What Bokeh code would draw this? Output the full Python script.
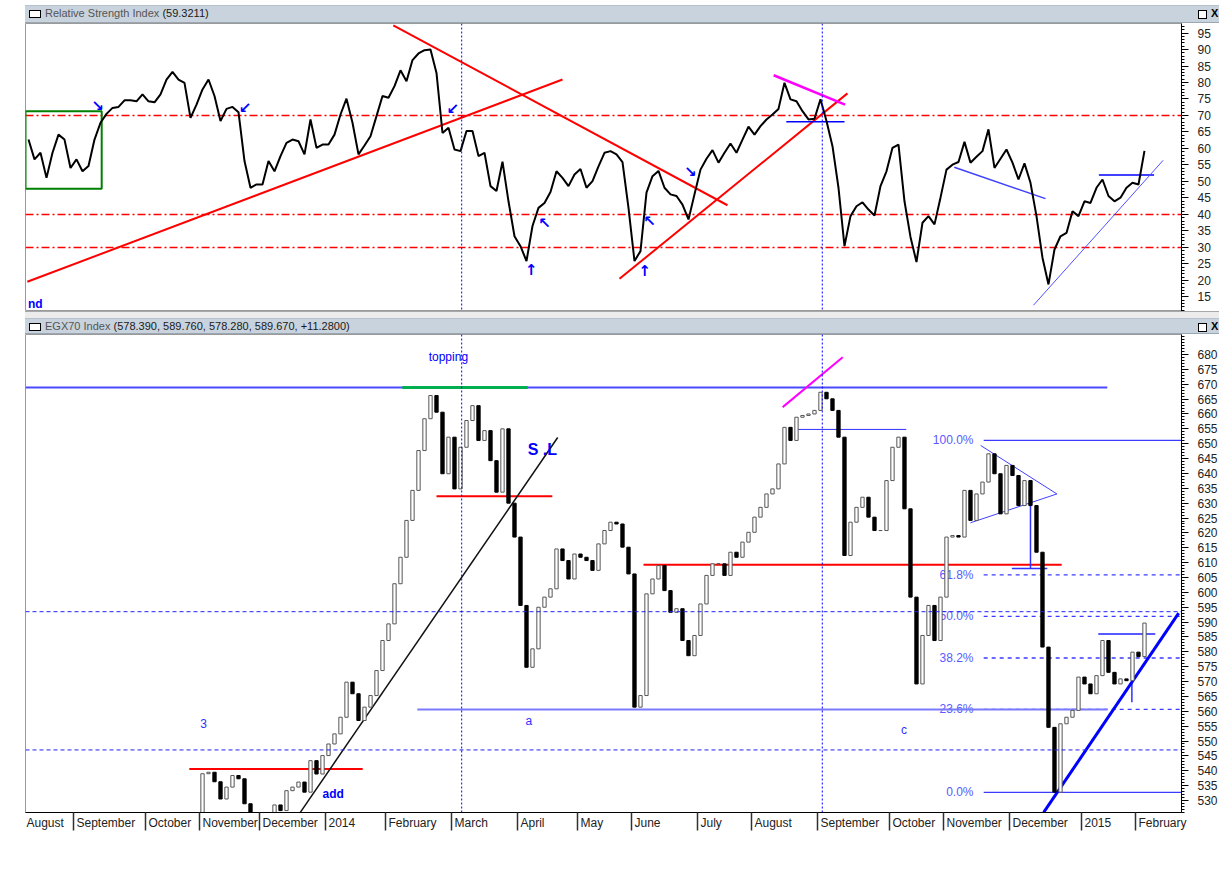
import numpy as np
from bokeh.plotting import figure
from bokeh.models import ColumnDataSource, FixedTicker, Range1d, Span, Label, Div
from bokeh.layouts import column
from bokeh.embed import file_html
from bokeh.resources import INLINE
from bokeh.core.properties import value

# ---------------- data (one value per bar, bar index 0 = mid August 2013) ----------------
rsi = [62.7, 56.7, 58.7, 51.1, 58.7, 64.2, 62.7, 54.1, 56.7, 53.1,
       54.7, 62.7, 67.8, 70.5, 72.3, 72.6, 74.6, 74.6, 74.3, 76.4,
       74.3, 74.0, 76.4, 80.9, 83.2, 80.9, 79.9, 69.3, 73.3, 77.9,
       80.9, 75.9, 68.3, 72.0, 72.6, 71.0, 56.2, 48.1, 49.1, 49.1,
       56.2, 53.1, 57.7, 61.7, 62.7, 62.2, 58.2, 68.8, 60.2, 61.2,
       61.2, 64.2, 70.3, 75.1, 67.8, 58.2, 60.9, 63.7, 69.8, 75.9,
       75.4, 78.9, 83.7, 80.4, 86.8, 88.8, 89.8, 90.0, 82.9, 64.7,
       66.3, 59.7, 59.2, 65.3, 65.3, 57.7, 58.7, 48.6, 47.1, 56.0,
       44.0, 33.4, 30.4, 25.9, 36.5, 42.0, 43.5, 46.8, 53.1, 51.1,
       48.6, 52.1, 53.8, 48.1, 50.1, 54.6, 58.7, 59.2, 58.2, 55.9,
       42.0, 25.9, 28.9, 46.6, 51.6, 53.2, 48.1, 46.1, 45.6, 43.0,
       38.5, 46.1, 53.6, 56.9, 59.5, 55.7, 58.7, 61.5, 58.7, 62.7,
       66.6, 64.2, 66.8, 68.8, 70.3, 72.0, 79.9, 74.9, 74.3, 71.3,
       68.8, 69.0, 74.9, 68.3, 60.7, 48.1, 30.4, 39.5, 42.5, 43.7,
       41.5, 39.7, 48.6, 53.1, 60.2, 61.2, 44.0, 33.2, 25.6, 37.5,
       39.5, 37.0, 45.1, 53.6, 55.1, 55.9, 62.0, 55.7, 57.5, 59.2,
       65.8, 54.1, 56.9, 59.7, 55.7, 50.6, 55.5, 49.6, 39.5, 26.9,
       18.8, 29.4, 33.4, 34.4, 41.0, 39.5, 44.0, 43.5, 48.1, 50.6,
       45.6, 44.0, 45.1, 48.1, 49.6, 49.1, 59.3]

price_first_bar = 28          # earlier bars are below the visible price scale
price_close = [521.0, 539.0, 539.5, 536.3, 530.5, 534.5, 538.4, 537.3, 528.9, 525.5,
               522.0, 521.0, 524.0, 528.5, 526.6, 533.3, 534.5, 536.2, 532.8, 543.4,
               538.9, 545.1, 549.0, 552.4, 558.0, 569.8, 565.9, 556.9, 561.4, 565.3,
               573.7, 583.8, 589.4, 602.9, 611.8, 624.2, 634.3, 647.7, 658.4, 666.2,
               660.6, 639.9, 652.2, 634.8, 648.8, 657.8, 662.8, 651.1, 654.4, 644.3,
               633.7, 655.0, 630.0, 618.6, 595.6, 574.8, 581.0, 595.0, 598.4, 601.2,
               614.6, 610.7, 604.5, 612.9, 611.8, 610.7, 607.4, 616.3, 620.8, 623.6,
               623.0, 615.2, 606.2, 561.4, 565.3, 599.5, 604.5, 609.0, 600.6, 593.3,
               594.5, 583.8, 578.7, 585.5, 596.1, 605.7, 609.6, 609.6, 605.7, 613.5,
               611.8, 616.9, 620.2, 625.3, 628.6, 633.1, 634.8, 643.2, 655.5, 651.1,
               658.9, 659.5, 660.0, 661.2, 667.3, 665.1, 661.2, 652.2, 612.4, 623.6,
               628.6, 632.0, 625.3, 620.8, 620.8, 637.6, 648.8, 652.2, 628.1, 598.4,
               569.2, 585.5, 595.6, 583.8, 598.4, 618.6, 619.1, 618.6, 634.3, 624.2,
               633.1, 637.1, 646.6, 639.9, 626.4, 642.7, 639.3, 629.2, 637.6, 629.2,
               613.5, 581.6, 554.6, 532.8, 555.8, 558.0, 560.3, 571.5, 569.2, 565.9,
               572.0, 583.8, 573.1, 569.2, 570.9, 570.3, 579.9, 578.4, 589.67]

rsi_last = "59.3211"
ohlc_last = "578.390, 589.760, 578.280, 589.670, +11.2800"
last_price = 589.67

month_labels = ["August", "September", "October", "November", "December", "2014",
                "February", "March", "April", "May", "June", "July", "August",
                "September", "October", "November", "December", "2015", "February"]
month_first_bar = [None, 8, 20, 29, 39, 50, 60, 71, 82, 92, 101, 112, 121,
                   132, 144, 153, 164, 176, 185]

rsi_levels = [70, 40, 30]
price_ticks = list(range(530, 685, 5))
rsi_ticks = list(range(15, 100, 5))

fib_high, fib_low = 651.1, 532.7
fib_ratios = [1.0, 0.618, 0.5, 0.382, 0.236, 0.0]
fib_names = ["100.0%", "61.8%", "50.0%", "38.2%", "23.6%", "0.0%"]

# ---------------- layout constants ----------------
FONT = "Liberation Sans"
X0, X1 = -0.5, 192.17
xr = Range1d(X0, X1)
LEFT = 25

AW = {'A': 667, 'F': 611, 'J': 500, 'M': 833, 'N': 722, 'O': 778, 'D': 722, 'S': 667,
      'a': 556, 'b': 556, 'c': 500, 'e': 556, 'g': 556, 'h': 556, 'i': 222, 'l': 222,
      'm': 833, 'n': 556, 'o': 556, 'p': 556, 'r': 333, 's': 500, 't': 278, 'u': 556,
      'v': 500, 'y': 500}


def text_w(s, px=12):
    return sum(AW.get(c, 556) for c in s) * px / 1000.0


PX_PER_BAR = 6.0


def style_right(ax, majors, minors):
    ax.ticker = FixedTicker(ticks=majors, minor_ticks=minors)
    ax.axis_line_color = "black"
    ax.axis_line_width = 1
    ax.major_tick_out = 7
    ax.major_tick_in = 0
    ax.minor_tick_out = 3
    ax.minor_tick_in = 0
    ax.major_tick_line_color = "black"
    ax.minor_tick_line_color = "black"
    ax.major_label_text_font = FONT
    ax.major_label_text_font_size = "12px"
    ax.major_label_text_color = "#222222"
    ax.major_label_standoff = 9


# ---------------- RSI panel ----------------
p1 = figure(frame_width=1156, frame_height=288, x_range=xr, y_range=Range1d(10.6, 97.88),
            output_backend="svg", toolbar_location=None, x_axis_location=None,
            y_axis_location="right", min_border_left=LEFT, min_border_right=38,
            min_border_top=0, min_border_bottom=0, background_fill_color="white",
            border_fill_color="white", outline_line_color="#9a9a9a")
p1.grid.visible = False
style_right(p1.yaxis[0], rsi_ticks, list(range(11, 98)))

p1.segment(x0=[X0] * len(rsi_levels), y0=rsi_levels, x1=[X1] * len(rsi_levels), y1=rsi_levels,
           line_color="#ff0000", line_width=1.6, line_dash="8 3 2 3")
for vx in (72.2, 132.3):
    p1.add_layout(Span(location=vx, dimension="height", line_color="#0000ff", line_width=1, line_dash="2 2"))

p1.quad(left=[X0], right=[12.2], top=[71.3], bottom=[47.8], fill_alpha=0,
        line_color="#008000", line_width=2)
p1.segment(x0=[-0.2, 60.8, 98.5], y0=[19.6, 97.3, 20.5], x1=[89.0, 116.5, 136.5], y1=[80.9, 42.8, 76.7],
           line_color="#ff0000", line_width=2)
p1.segment(x0=[124.2], y0=[82.2], x1=[136.1], y1=[73.3], line_color="#ff00ff", line_width=2.5)
p1.segment(x0=[126.3, 178.4], y0=[68.1, 52.0], x1=[136.0, 187.6], y1=[68.1, 52.0],
           line_color="#0000ff", line_width=1.5)
p1.segment(x0=[154.3], y0=[54.3], x1=[169.5], y1=[44.8], line_color="#4040ff", line_width=1.5)
p1.segment(x0=[167.5], y0=[12.5], x1=[189.1], y1=[56.4], line_color="#5050ff", line_width=1)

p1.line(x=np.arange(len(rsi)), y=rsi, line_color="black", line_width=2)

p1.text(x=[11.5, 36.1, 70.7, 86.0, 83.8, 102.7, 103.5, 110.3],
        y=[72.8, 72.3, 72.0, 37.3, 23.1, 22.8, 38.0, 52.8],
        text=["↘", "↙", "↙", "↖", "↑", "↑", "↖", "↘"],
        text_font=value("DejaVu Sans"), text_font_style="bold", text_font_size="15px",
        text_color="#0000ff", text_align="center", text_baseline="middle")
p1.text(x=[X0 + 0.4], y=[13.0], text=["nd"], text_font=value(FONT), text_font_style="bold",
        text_font_size="12px", text_color="#0000ff", text_align="left", text_baseline="middle")

# ---------------- price panel ----------------
p2 = figure(frame_width=1156, frame_height=478, x_range=xr, y_range=Range1d(525.96, 686.73),
            output_backend="svg", toolbar_location=None, y_axis_location="right",
            min_border_left=LEFT, min_border_right=38, min_border_top=0, min_border_bottom=24,
            background_fill_color="white", border_fill_color="white", outline_line_color="#9a9a9a")
p2.grid.visible = False
style_right(p2.yaxis[0], price_ticks, list(range(526, 687)))

# x axis: month names just right of the month separators
boundaries, label_pos, overrides = [], [], {}
for name, fb in zip(month_labels, month_first_bar):
    if fb is None:
        pos = X0 + (1 + text_w(name) / 2) / PX_PER_BAR
    else:
        boundaries.append(fb - 0.5)
        pos = fb - 0.5 + (3 + text_w(name) / 2) / PX_PER_BAR
    pos = round(pos, 3)
    label_pos.append(pos)
    overrides[pos] = name
xa = p2.xaxis[0]
xa.ticker = FixedTicker(ticks=label_pos, minor_ticks=boundaries)
xa.major_label_overrides = overrides
xa.major_tick_line_color = None
xa.major_tick_out = 0
xa.major_tick_in = 0
xa.minor_tick_out = 18
xa.minor_tick_in = 0
xa.minor_tick_line_color = "#303030"
xa.minor_tick_line_width = 1.5
xa.axis_line_color = "black"
xa.major_label_standoff = -15
xa.major_label_text_font = FONT
xa.major_label_text_font_size = "12px"
xa.major_label_text_color = "#222222"

for lv in (593.5, 547.0):
    p2.add_layout(Span(location=lv, dimension="width", line_color="#2020ff", line_width=1, line_dash="4 3"))
for vx in (72.2, 132.3):
    p2.add_layout(Span(location=vx, dimension="height", line_color="#0000ff", line_width=1, line_dash="2 2"))

# fibonacci retracement
fib_vals = [fib_low + r * (fib_high - fib_low) for r in fib_ratios]
for nm, fv in zip(fib_names, fib_vals):
    solid = nm in ("100.0%", "0.0%")
    p2.segment(x0=[159.2], y0=[fv], x1=[X1], y1=[fv], line_color="#3b3bff",
               line_width=1.3, line_dash="solid" if solid else "4 4")
p2.text(x=[157.5] * len(fib_vals), y=fib_vals, text=fib_names, text_font=value(FONT),
        text_font_size="12px", text_color="#5a5aff", text_align="right", text_baseline="middle")

# drawn lines
p2.segment(x0=[X0], y0=[668.9], x1=[179.8], y1=[668.9], line_color="#4a4aff", line_width=2)
p2.segment(x0=[62.3], y0=[668.9], x1=[83.2], y1=[668.9], line_color="#00b050", line_width=3)
p2.segment(x0=[64.8], y0=[560.6], x1=[179.8], y1=[560.6], line_color="#7a7aff", line_width=2)
p2.segment(x0=[26.8, 68.0, 102.5], y0=[540.6, 632.3, 609.3], x1=[55.7, 87.3, 172.2],
           y1=[540.6, 632.3, 609.3], line_color="#ff0000", line_width=2)
p2.segment(x0=[45.3], y0=[526.0], x1=[88.2], y1=[652.1], line_color="#111111", line_width=1.5)
p2.segment(x0=[125.7], y0=[662.3], x1=[135.7], y1=[679.1], line_color="#ff00ff", line_width=2)
p2.segment(x0=[127.8], y0=[654.8], x1=[146.3], y1=[654.8], line_color="#3030ff", line_width=1)
p2.segment(x0=[158.7, 157.0], y0=[649.4, 623.4], x1=[171.4, 171.4], y1=[633.1, 633.1],
           line_color="#4040ff", line_width=1)
p2.segment(x0=[167.0, 163.9, 183.9], y0=[629.9, 608.0, 571.5], x1=[167.0, 169.8, 183.9],
           y1=[608.0, 608.0, 563.0], line_color="#3030ff", line_width=1.5)
p2.segment(x0=[178.3], y0=[586.0], x1=[187.8], y1=[586.0], line_color="#2020ff", line_width=1.5)
p2.segment(x0=[169.2], y0=[526.0], x1=[191.7], y1=[593.0], line_color="#0000ff", line_width=3)

# candles (open = previous close)
close = np.array(price_close, dtype=float)
opn = np.r_[close[0], close[:-1]]
bars = np.arange(price_first_bar, price_first_bar + len(close))
up = close >= opn
src_up = ColumnDataSource(dict(x=bars[up], top=np.maximum(opn, close)[up], bottom=np.minimum(opn, close)[up]))
src_dn = ColumnDataSource(dict(x=bars[~up], top=np.maximum(opn, close)[~up], bottom=np.minimum(opn, close)[~up]))
p2.vbar(x="x", top="top", bottom="bottom", width=0.55, source=src_up,
        fill_color="white", line_color="#555555", line_width=1)
p2.vbar(x="x", top="top", bottom="bottom", width=0.55, source=src_dn,
        fill_color="black", line_color="black", line_width=1)

# annotations
p2.text(x=[66.7], y=[679.0], text=["topping"], text_font=value(FONT), text_font_size="12px",
        text_color="#0000ff", text_align="left", text_baseline="middle")
p2.text(x=[83.2], y=[648.0], text=["S .L"], text_font=value(FONT), text_font_size="16px",
        text_font_style="bold", text_color="#0000ff", text_align="left", text_baseline="middle")
p2.text(x=[49.0], y=[532.3], text=["add"], text_font=value(FONT), text_font_size="12px",
        text_font_style="bold", text_color="#0000ff", text_align="left", text_baseline="middle")
p2.text(x=[29.2, 83.4, 145.9], y=[555.9, 556.6, 553.7], text=["3", "a", "c"],
        text_font=value(FONT), text_font_size="12px", text_color="#3030ff",
        text_align="center", text_baseline="middle")

p2.add_layout(Label(x=X1, y=last_price, x_offset=1, text=f"{last_price:.3f}", text_baseline="middle",
                    text_align="left", text_font=FONT, text_font_size="10px", text_color="#00ff00",
                    background_fill_color="black"))


# ---------------- title bars ----------------
def title_div(name, vals, top):
    html = ('<div style="display:flex;align-items:center;width:1194px;height:16px;'
            f'font-family:\'{FONT}\',Arial,sans-serif;font-size:11px;white-space:nowrap;">'
            '<span style="display:inline-block;width:12px;height:8px;border:1px solid #000;'
            'background:#fff;margin:0 4px 0 4px;"></span>'
            f'<span style="color:#555555;">{name}</span>'
            f'<span style="color:#1a1a1a;">&nbsp;({vals})</span>'
            '<span style="margin-left:auto;display:inline-block;width:9px;height:9px;'
            'border:1px solid #000;background:#fff;margin-right:4px;"></span>'
            '<span style="display:inline-block;width:8px;font-weight:bold;color:#000;">X</span>'
            '</div>')
    return Div(text=html, width=1194, height=18 if top else 16, margin=(5 if top else 0, 0, 0, LEFT),
               styles={"background-color": "#c9d3de", "border-bottom": "1px solid #9aa6b2",
                       "border-top": "1px solid #b8c2cc", "box-sizing": "border-box",
                       "overflow": "hidden"})


t1 = title_div("Relative Strength Index", rsi_last, True)
t2 = title_div("EGX70 Index", ohlc_last, False)
gap = Div(text="", width=1194, height=7, margin=(0, 0, 0, LEFT),
          styles={"background-color": "#ececec", "border-top": "1px solid #a8a8a8",
                  "box-sizing": "border-box"})

layout = column(t1, p1, gap, t2, p2, spacing=0)
open("out.html", "w").write(file_html(layout, INLINE))
